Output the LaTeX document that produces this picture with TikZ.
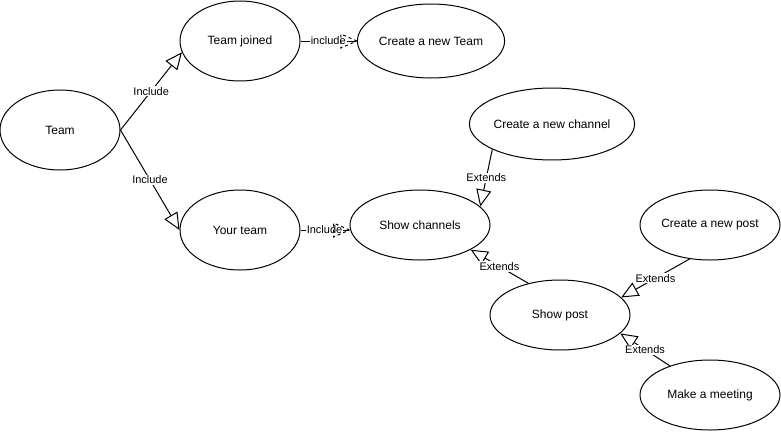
\documentclass[tikz,border=0pt]{standalone}
\usepackage{fontspec}
\setmainfont{Liberation Sans}
\usetikzlibrary{shapes.geometric,arrows.meta,calc}
\begin{document}
\begin{tikzpicture}[x=1pt,y=-1pt,
  uc/.style={ellipse,draw,line width=1pt,inner sep=0pt,font=\fontsize{12}{14}\selectfont},
  lbl/.style={fill=white,inner sep=1pt,font=\fontsize{11}{13}\selectfont},
  gen/.style={line width=1pt,-{Triangle[open,length=17pt,width=15pt,line width=1pt]}},
  dashhead/.style={line width=1pt,dash pattern=on 3pt off 3pt}]
\useasboundingbox (0,0) rectangle (781,431);
\node[uc,minimum width=120pt,minimum height=80pt] (team) at (60,130) {Team};
\node[uc,minimum width=120pt,minimum height=80pt] (joined) at (240,41) {Team joined};
\node[uc,minimum width=138pt,minimum height=74pt] (newteam) at (431,41) {Create a new Team};
\node[uc,minimum width=120pt,minimum height=80pt] (your) at (240,230) {Your team};
\node[uc,minimum width=140pt,minimum height=70pt] (chan) at (420,225) {Show channels};
\node[uc,minimum width=155pt,minimum height=72pt] (newchan) at (552,124) {Create a new channel};
\node[uc,minimum width=140pt,minimum height=70pt] (newpost) at (710,225) {Create a new post};
\node[uc,minimum width=140pt,minimum height=70pt] (post) at (560,315) {Show post};
\node[uc,minimum width=140pt,minimum height=70pt] (meet) at (710,395) {Make a meeting};

\draw[gen] (team.east) -- node[lbl]{Include} (joined.191);
\draw[gen] (team.east) -- node[lbl]{Include} (your.west);

\coordinate (t1) at (newteam.west);
\draw[line width=1pt] (joined.east) -- node[lbl]{include} ($(t1)+(-1,0)$);
\draw[dashhead] (t1) -- ++(-16,-7) -- ++(0,14) -- cycle;

\coordinate (t2) at (chan.west |- your.east);
\draw[line width=1pt] (your.east) -- node[lbl]{Include} ($(t2)+(-1,0)$);
\draw[dashhead] (t2) -- ++(-16,-7) -- ++(0,14) -- cycle;

\draw[gen] (newchan.203) -- node[lbl]{Extends} (chan.17);
\draw[gen] (post.135) -- node[lbl]{Extends} (chan.334);
\draw[gen] (newpost.239) -- node[lbl]{Extends} (post.16);
\draw[gen] (meet.144) -- node[lbl]{Extends} (post.343);
\end{tikzpicture}
\end{document}
